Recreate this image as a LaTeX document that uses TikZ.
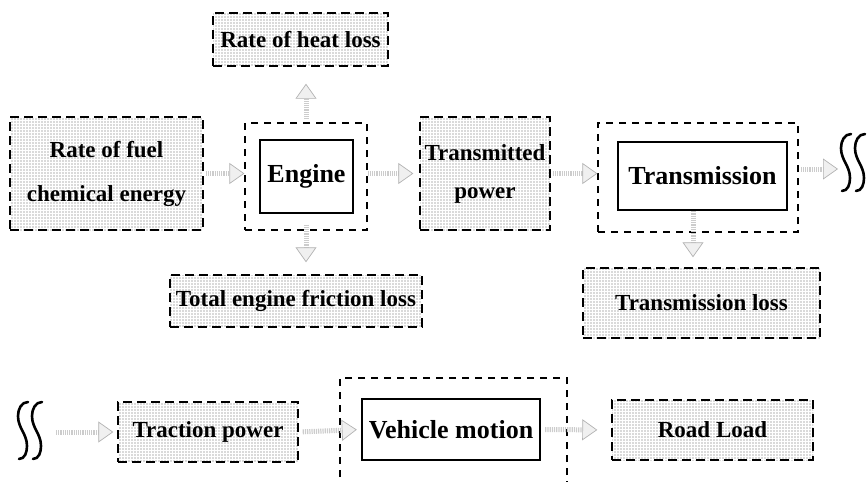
\documentclass[tikz,border=0pt]{standalone}
\usepackage{fontspec}
\setmainfont{Liberation Serif}
\usetikzlibrary{patterns,arrows.meta}
\pgfdeclarepatternformonly{scandots}{\pgfqpoint{-1pt}{-1pt}}{\pgfqpoint{1pt}{1pt}}{\pgfqpoint{3pt}{3pt}}{%
  \pgfpathcircle{\pgfqpoint{0pt}{0pt}}{0.6pt}\pgfusepath{fill}}
\begin{document}
\begin{tikzpicture}[x=1pt,y=-1pt,
  flowbox/.style={draw=black, line width=1.4pt, dash pattern=on 9pt off 5pt,
    pattern=scandots, pattern color=gray!75!black, inner sep=0pt, align=center,
    font=\bfseries\fontsize{23}{38}\selectfont},
  compouter/.style={draw=black, line width=1.2pt, dash pattern=on 7pt off 6pt, inner sep=0pt},
  compinner/.style={draw=black, line width=2.4pt, fill=white, inner sep=0pt,
    font=\bfseries\fontsize{26}{30}\selectfont},
  flowarr/.style={draw=gray!40, line width=5pt, dash pattern=on 1.2pt off 1pt,
    -{Triangle[length=15pt,width=21pt,line width=0.7pt,color=gray!60,fill=gray!12]}},
  sstroke/.style={line width=2.6pt, line cap=round}
]
\useasboundingbox (0,0) rectangle (868,482);
\clip (0,0) rectangle (868,482);

% flow boxes
\node[flowbox, minimum width=175pt, minimum height=53pt] (heat) at (300.5,39.5) {Rate of heat loss};
\node[flowbox, minimum width=193pt, minimum height=113pt] (fuel) at (106.5,173.5) {Rate of fuel\\[6pt]chemical energy};
\node[flowbox, minimum width=130pt, minimum height=113pt] (trpow) at (485,173.5) {Transmitted\\power};
\node[flowbox, minimum width=252pt, minimum height=52pt] (fric) at (296,301) {Total engine friction loss};
\node[flowbox, minimum width=237pt, minimum height=70pt] (tloss) at (701.5,303) {Transmission loss};
\node[flowbox, minimum width=180pt, minimum height=60pt] (tract) at (208,432) {Traction power};
\node[flowbox, minimum width=201pt, minimum height=60pt] (road) at (712.5,430) {Road Load};

% components
\node[compouter, minimum width=122pt, minimum height=107pt] (engout) at (306,176.5) {};
\node[compinner, minimum width=93pt, minimum height=73pt] (engin) at (306.5,176.5) {Engine};
\node[compouter, minimum width=200pt, minimum height=109pt] (trout) at (698,177.5) {};
\node[compinner, minimum width=169pt, minimum height=68pt] (trin) at (702.5,176) {Transmission};
\node[compouter, minimum width=227pt, minimum height=130pt] (vehout) at (453.5,443) {};
\node[compinner, minimum width=178pt, minimum height=61pt] (vehin) at (451,429.5) {Vehicle motion};

% break symbols
\coordinate (ssR) at (838,169);
\coordinate (ssL) at (46,432);
\begin{scope}[shift={(840,134)}]
  \draw[sstroke] (11,0) to[out=180,in=90] (1,14) to[out=-90,in=90] (10,44) to[out=-90,in=0] (2,57);
  \draw[sstroke] (25,0) to[out=180,in=90] (15,14) to[out=-90,in=90] (24,44) to[out=-90,in=0] (16,57);
\end{scope}
\begin{scope}[shift={(17,402)}]
  \draw[sstroke] (11,0) to[out=180,in=90] (1,14) to[out=-90,in=90] (10,44) to[out=-90,in=0] (2,57);
  \draw[sstroke] (25,0) to[out=180,in=90] (15,14) to[out=-90,in=90] (24,44) to[out=-90,in=0] (16,57);
\end{scope}

% arrows
\draw[flowarr, shorten <=2pt] (fuel.east) -- (engout.west |- fuel.east);
\draw[flowarr, shorten >=6pt] (engout.east |- trpow.west) -- (trpow.west);
\draw[flowarr, shorten <=2pt] (trpow.east) -- (trout.west |- trpow.east);
\draw[flowarr, shorten <=2pt] (trout.east |- ssR) -- (ssR);
\draw[flowarr, shorten <=3pt, shorten >=17pt] (engout.north) -- (heat.south -| engout.north);
\draw[flowarr, shorten <=-6pt, shorten >=12pt] (engout.south) -- (fric.north -| engout.south);
\draw[flowarr, shorten >=10pt] (trin.south -| 693,0) -- (tloss.north -| 693,0);
\draw[flowarr, shorten <=10pt, shorten >=4pt] (ssL) -- (tract.west);
\draw[flowarr, shorten <=4pt, shorten >=4pt] (tract.east) -- (vehin.west);
\draw[flowarr, shorten <=4pt, shorten >=14pt] (vehin.east) -- (road.west);
\end{tikzpicture}
\end{document}
